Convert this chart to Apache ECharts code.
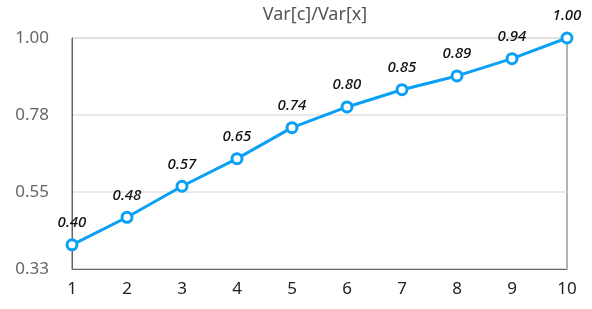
<!DOCTYPE html>
<html><head><meta charset="utf-8">
<script src="https://cdn.jsdelivr.net/npm/echarts@6/dist/echarts.min.js"></script>
<style>html,body{margin:0;padding:0;background:#fff}#c{width:592px;height:309px}</style>
</head><body><div id="c"></div>
<script>
const categories = ['1','2','3','4','5','6','7','8','9','10'];
const values = [0.40, 0.48, 0.57, 0.65, 0.74, 0.80, 0.85, 0.89, 0.94, 1.00];
const yMin = 0.33, yMax = 1.00;
const titleText = 'Var[c]/Var[x]';
const FONT = '"Noto Sans", "Open Sans", sans-serif';

const chart = echarts.init(document.getElementById('c'));
chart.setOption({
  animation: false,
  textStyle: { fontFamily: FONT },
  title: {
    text: titleText, left: 310, top: 1, textAlign: 'center',
    textStyle: { fontSize: 18, fontWeight: 'normal', color: '#555', fontFamily: FONT }
  },
  grid: { left: 72, right: 25, top: 38, bottom: 40, show: true, borderColor: '#666', borderWidth: 1 },
  xAxis: {
    type: 'category', data: categories, boundaryGap: false,
    axisLine: { lineStyle: { color: '#666' } },
    axisTick: { show: false },
    axisLabel: { color: '#222', fontSize: 17, margin: 12, fontFamily: FONT },
    splitLine: { show: false }
  },
  yAxis: {
    type: 'value', min: yMin, max: yMax, interval: (yMax - yMin) / 3,
    axisLine: { show: true, lineStyle: { color: '#666' } },
    axisTick: { show: false },
    axisLabel: { color: '#666', fontSize: 17, margin: 23, fontFamily: FONT, formatter: v => v.toFixed(2) },
    splitLine: { show: true, lineStyle: { color: '#e3e3e3', width: 1.5 } }
  },
  series: [{
    type: 'line', data: values,
    lineStyle: { color: '#0aa0f5', width: 3 },
    itemStyle: { color: '#fff', borderColor: '#0aa0f5', borderWidth: 3 },
    symbol: 'circle', symbolSize: 10, showAllSymbol: true,
    label: {
      show: true, position: 'top', distance: 8,
      formatter: p => p.value.toFixed(2),
      fontStyle: 'italic', fontSize: 15, color: '#111', fontWeight: 500, fontFamily: FONT
    }
  }]
});
</script></body></html>
